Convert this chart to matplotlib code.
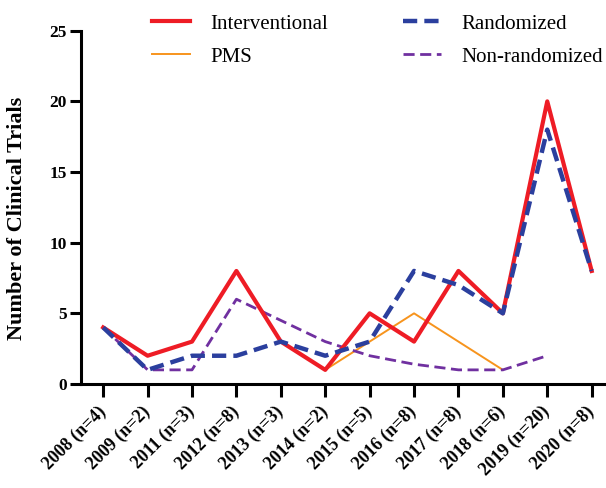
import numpy as np
import matplotlib.pyplot as plt

# Data
years = ['2008 (n=4)', '2009 (n=2)', '2011 (n=3)', '2012 (n=8)', '2013 (n=3)', '2014 (n=2)',
         '2015 (n=5)', '2016 (n=8)', '2017 (n=8)', '2018 (n=6)', '2019 (n=20)', '2020 (n=8)']
interventional = [4, 2, 3, 8, 3, 1, 5, 3, 8, 5, 20, 8]
randomized = [4, 1, 2, 2, 3, 2, 3, 8, 7, 5, 18, 8]
pms_idx = [5, 6, 7, 8, 9]
pms = [1, 3, 5, 3, 1]
nonrand_idx = [0, 1, 2, 3, 4, 5, 6, 7, 8, 9, 10]
nonrand = [4, 1, 1, 6, 4.5, 3.0, 2, 1.4, 1, 1, 2]

plt.rcParams['font.family'] = ['Liberation Serif', 'DejaVu Serif']

fig = plt.figure(figsize=(6.06, 4.88), dpi=100)
ax = fig.add_axes([81 / 606, 1 - 384 / 488, 1 - 81 / 606, (384 - 30.7) / 488])

x = np.arange(len(years))
ax.plot(x, interventional, color='#EE1C25', lw=3.0, label='Interventional', zorder=3)
ax.plot(pms_idx, pms, color='#F7941D', lw=1.4, label='PMS', zorder=2)
ax.plot(x, randomized, color='#2B3F9E', lw=3.2, ls=(0, (3.2, 1.6)), label='Randomized', zorder=4)
ax.plot(nonrand_idx, nonrand, color='#7030A0', lw=2.0, ls=(0, (4, 2)), label='Non-randomized', zorder=2)

ax.set_xlim(-0.5, (606 - 102.7) / 44.45)
ax.set_ylim(0, 25)
ax.set_yticks([0, 5, 10, 15, 20, 25])
ax.set_xticks(x)
ax.set_xticklabels(years, rotation=45, ha='right', va='center', rotation_mode='anchor',
                   fontweight='bold', fontsize=13)
for lab in ax.get_yticklabels():
    lab.set_fontweight('bold')
    lab.set_fontsize(12.5)

ax.spines['top'].set_visible(False)
ax.spines['right'].set_visible(False)
for s in ['left', 'bottom']:
    ax.spines[s].set_linewidth(2.2)
ax.tick_params(width=2.2, length=8, pad=2)
ax.tick_params(axis='x', length=9, pad=9)
ax.set_ylabel('Number of Clinical Trials', fontsize=16, fontweight='bold')
ax.yaxis.set_label_coords(-0.103, 0.47)

fig.legend(loc='upper left', bbox_to_anchor=(152 / 606, 1 - 14 / 488), ncol=2, frameon=False,
           fontsize=15, handlelength=1.8, columnspacing=3.6, labelspacing=0.65,
           handletextpad=1.0, borderpad=0, borderaxespad=0)

fig.savefig('out.png', dpi=100)
